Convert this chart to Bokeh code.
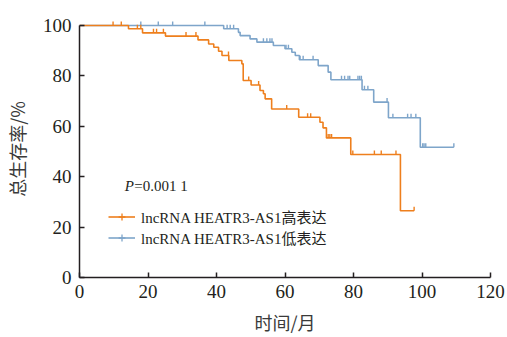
import math
from bokeh.plotting import figure
from bokeh.models import Range1d, Legend, LegendItem, Label, ColumnDataSource, FixedTicker
from bokeh.embed import file_html
from bokeh.resources import INLINE

# lncRNA HEATR3-AS1 high expression (orange): event times (months) and survival (%)
high_t = [0, 14.3, 18.4, 25.1, 34.6, 37.7, 39.2, 40.6, 41.6, 43.6, 47.4, 47.8, 50.1,
          52.7, 53.7, 54.2, 56.1, 64.0, 70.2, 71.1, 72.1, 79.2, 93.7, 97.7]
high_s = [100, 98.7, 97.1, 95.8, 94.3, 92.7, 91.4, 89.8, 88.1, 86.1, 84.8, 78.2, 76.4,
          74.2, 72.9, 70.9, 66.9, 63.6, 61.6, 59.4, 55.4, 48.8, 26.5, 26.5]
high_censor = [9.8, 12.2, 16.9, 17.9, 21.6, 22.5, 24.5, 31.1, 34.0, 43.5, 49.4, 52.3,
               60.5, 66.6, 67.5, 72.6, 73.1, 73.6, 79.8, 86.1, 88.1, 92.4, 97.7]

# lncRNA HEATR3-AS1 low expression (blue)
low_t = [0, 42.1, 46.4, 46.9, 49.8, 51.8, 56.6, 60.0, 62.0, 63.0, 64.2, 69.7, 72.6,
         73.4, 82.5, 85.9, 90.2, 99.5, 109.3]
low_s = [100, 98.7, 97.3, 96.0, 94.7, 93.4, 92.1, 90.8, 89.4, 88.1, 86.4, 84.1, 81.5,
         78.5, 74.5, 69.6, 63.4, 51.7, 51.7]
low_censor = [17.9, 23.0, 27.2, 36.6, 43.1, 44.0, 45.0, 53.7, 54.7, 55.6, 56.2, 60.3,
              61.0, 64.4, 65.3, 68.2, 76.5, 77.4, 78.4, 78.9, 81.3, 81.8, 82.3, 83.2,
              84.2, 89.8, 91.5, 95.8, 96.8, 98.2, 100.2, 100.6, 101.1, 109.3]

x_ticks = [0, 20, 40, 60, 80, 100, 120]
y_ticks = [0, 20, 40, 60, 80, 100]
label_high = "lncRNA HEATR3-AS1高表达"
label_low = "lncRNA HEATR3-AS1低表达"
p_text = "=0.001 1"

ORANGE = "#EE7F1D"
BLUE = "#7EA5CA"
AXIS = "#231F20"
SERIF = "Liberation Serif"
CJK = "Noto Sans CJK SC"
NAN = float("nan")

def surv_at(t, times, surv):
    s = surv[0]
    for ti, si in zip(times, surv):
        if ti <= t:
            s = si
    return s

p = figure(width=507, height=337, output_backend="svg", toolbar_location=None,
           x_range=Range1d(0, 120), y_range=Range1d(0, 102),
           min_border_left=77, min_border_right=17, min_border_top=20, min_border_bottom=60)
p.outline_line_color = None
p.xgrid.visible = False
p.ygrid.visible = False
p.background_fill_color = "white"
p.border_fill_color = "white"

TICK_H = 1.6

def draw(times, surv, censor, color):
    r = p.step(times, surv, mode="after", line_color=color, line_width=1.6)
    cy = [surv_at(t, times, surv) for t in censor]
    src = ColumnDataSource(dict(x0=censor, y0=cy, y1=[c + TICK_H for c in cy]))
    p.segment(x0="x0", y0="y0", x1="x0", y1="y1", source=src, line_color=color, line_width=1.4)
    m = p.scatter([NAN], [NAN], marker="cross", size=7,
                  line_color=color, line_width=1.3)
    return r, m

low_line, low_mark = draw(low_t, low_s, low_censor, BLUE)
high_line, high_mark = draw(high_t, high_s, high_censor, ORANGE)

legend = Legend(items=[LegendItem(label=label_high, renderers=[high_line, high_mark]),
                       LegendItem(label=label_low, renderers=[low_line, low_mark])],
                location=(29, 29), padding=0, margin=0, spacing=0,
                glyph_width=27, glyph_height=17, label_height=17, label_standoff=6,
                border_line_alpha=0, background_fill_alpha=0,
                label_text_font=f"{SERIF}, {CJK}", label_text_font_size="15px",
                label_text_color=AXIS)
p.add_layout(legend, "center")

p.add_layout(Label(x=13.2, y=36.5, text="P", text_font=SERIF, text_font_style="italic",
                   text_font_size="15px", text_baseline="middle", text_color=AXIS))
p.add_layout(Label(x=13.2, y=36.5, x_offset=9.5, text=p_text, text_font=SERIF,
                   text_font_size="15px", text_baseline="middle", text_color=AXIS))

for ax in (p.xaxis[0], p.yaxis[0]):
    ax.axis_line_color = AXIS
    ax.axis_line_width = 1.5
    ax.major_tick_line_color = AXIS
    ax.major_tick_line_width = 1.5
    ax.major_tick_in = 5
    ax.major_tick_out = 0
    ax.minor_tick_line_color = None
    ax.major_label_text_font = SERIF
    ax.major_label_text_font_size = "19px"
    ax.major_label_text_color = AXIS
    ax.axis_label_text_font = CJK
    ax.axis_label_text_font_size = "18px"
    ax.axis_label_text_font_style = "normal"
    ax.axis_label_text_color = "#3a3a3a"

p.xaxis.ticker = FixedTicker(ticks=x_ticks)
p.yaxis.ticker = FixedTicker(ticks=y_ticks)
p.yaxis.bounds = (0, 100)
p.xaxis.major_label_standoff = 7
p.yaxis.major_label_standoff = 8
p.xaxis.axis_label = "时间/月"
p.yaxis.axis_label = "总生存率/%"
p.xaxis.axis_label_standoff = 8
p.yaxis.axis_label_standoff = 10

open("out.html", "w").write(file_html(p, INLINE))
